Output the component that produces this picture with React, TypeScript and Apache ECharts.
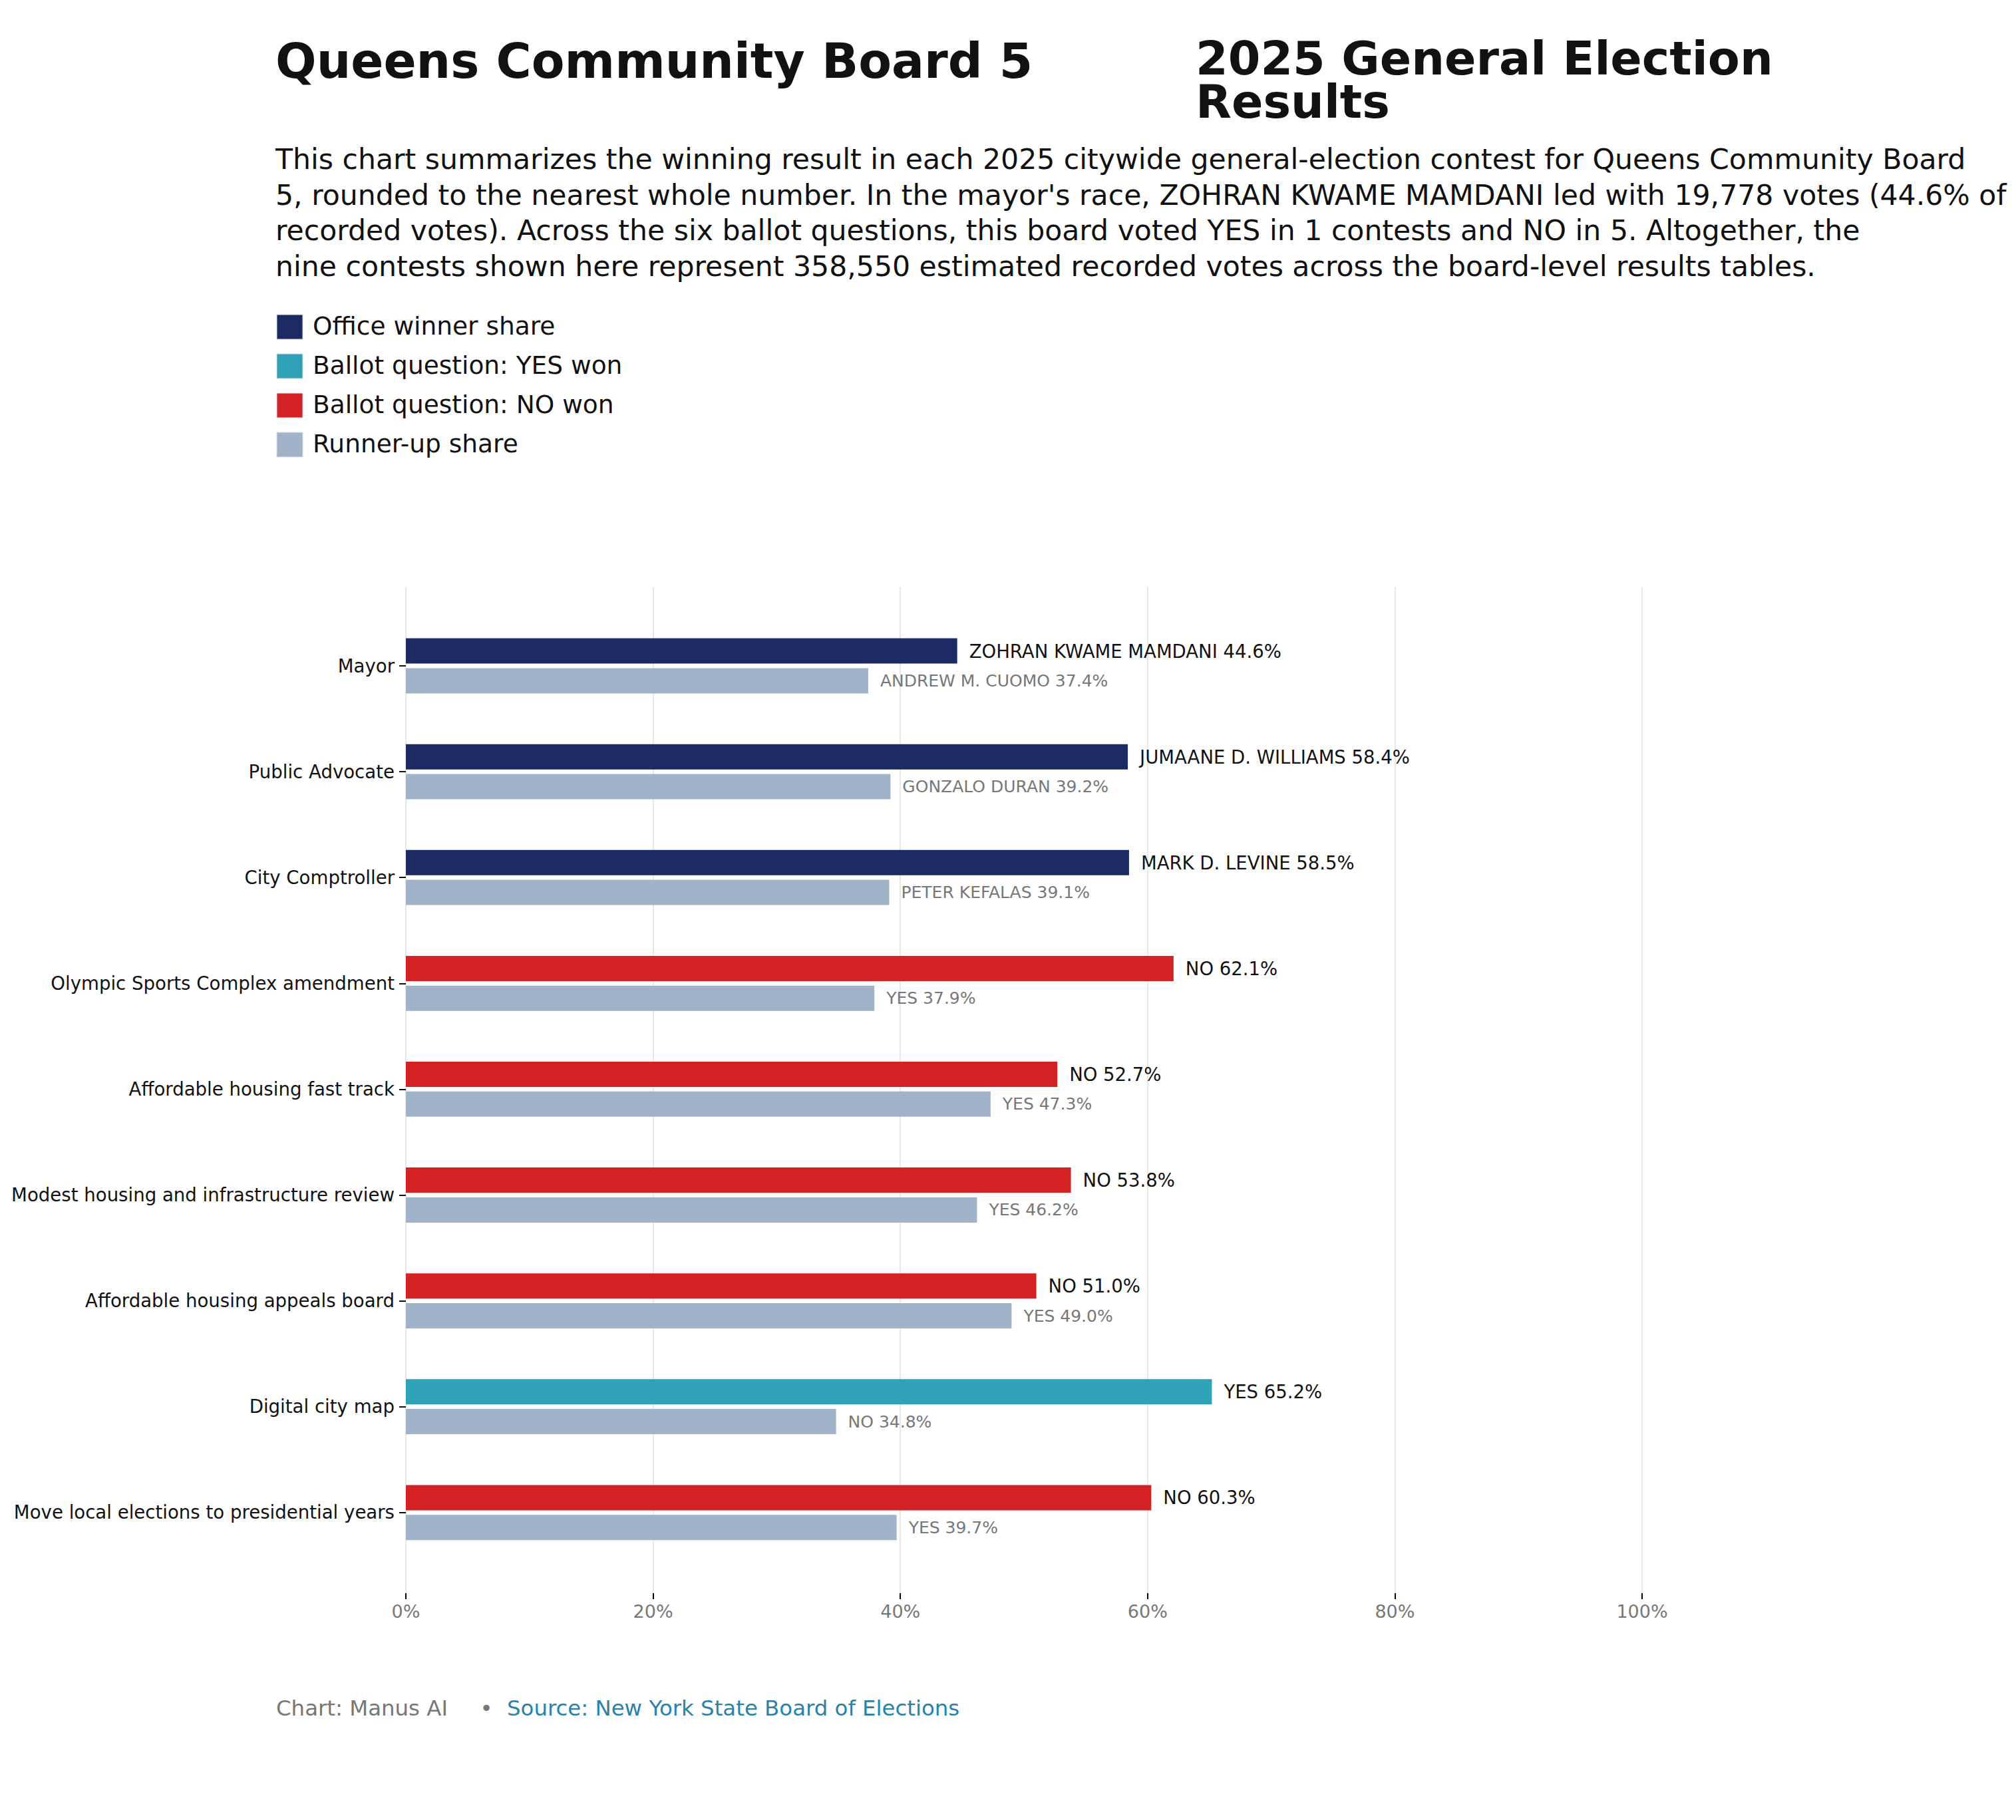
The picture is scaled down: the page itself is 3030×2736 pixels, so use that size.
import { useEffect, useRef } from 'react';
import * as echarts from 'echarts';

const contests = [
  'Mayor',
  'Public Advocate',
  'City Comptroller',
  'Olympic Sports Complex amendment',
  'Affordable housing fast track',
  'Modest housing and infrastructure review',
  'Affordable housing appeals board',
  'Digital city map',
  'Move local elections to presidential years',
];
const winnerNames = ['ZOHRAN KWAME MAMDANI', 'JUMAANE D. WILLIAMS', 'MARK D. LEVINE', 'NO', 'NO', 'NO', 'NO', 'YES', 'NO'];
const winnerShares = [44.6, 58.4, 58.5, 62.1, 52.7, 53.8, 51.0, 65.2, 60.3];
const winnerKinds = ['office', 'office', 'office', 'no', 'no', 'no', 'no', 'yes', 'no'];
const runnerNames = ['ANDREW M. CUOMO', 'GONZALO DURAN', 'PETER KEFALAS', 'YES', 'YES', 'YES', 'YES', 'NO', 'YES'];
const runnerShares = [37.4, 39.2, 39.1, 37.9, 47.3, 46.2, 49.0, 34.8, 39.7];
const xTicks = [0, 20, 40, 60, 80, 100];

const legendLabels = ['Office winner share', 'Ballot question: YES won', 'Ballot question: NO won', 'Runner-up share'];
const paragraphLines = [
  'This chart summarizes the winning result in each 2025 citywide general-election contest for Queens Community Board',
  "5, rounded to the nearest whole number. In the mayor's race, ZOHRAN KWAME MAMDANI led with 19,778 votes (44.6% of",
  'recorded votes). Across the six ballot questions, this board voted YES in 1 contests and NO in 5. Altogether, the',
  'nine contests shown here represent 358,550 estimated recorded votes across the board-level results tables.',
];

const COLORS: Record<string, string> = {
  office: '#1b2a63',
  yes: '#2ea3b7',
  no: '#d42224',
  runner: '#a0b3c8',
};
const legendColors = [COLORS.office, COLORS.yes, COLORS.no, COLORS.runner];

const FONT = 'DejaVu Sans';
const INK = '#111111';
const GREY = '#777777';

// plot geometry (px)
const PLOT_LEFT = 610;
const PLOT_W = 1858;
const AXES_TOP = 882;
const AXES_BOTTOM = 2395;
const BAND = 159.1;
const FIRST_CENTER = 1001;

function txt(text: string, x: number, y: number, size: number, fill: string, weight = 'normal', align = 'left', lh?: number) {
  return {
    type: 'text',
    x,
    y,
    silent: true,
    style: {
      text,
      fontSize: size,
      fontFamily: FONT,
      fontWeight: weight,
      fill,
      align,
      verticalAlign: 'middle',
      ...(lh ? { lineHeight: lh } : {}),
    },
  };
}

export default function App() {
  const ref = useRef<HTMLDivElement>(null);

  useEffect(() => {
    document.body.style.margin = '0';
    if (!ref.current) return;
    const chart = echarts.init(ref.current, null, { renderer: 'svg' });

    const graphics: any[] = [
      txt('Queens Community Board 5', 414, 92, 72.5, INK, 'bold'),
      txt('2025 General Election', 1797, 88, 70, INK, 'bold', 'left', 60),
      txt('Results', 1797, 153, 70, INK, 'bold', 'left', 60),
      ...paragraphLines.map((l, i) => txt(l, 414, 239 + i * 53.6, 42.6, INK)),
      ...legendLabels.flatMap((l, i) => [
        {
          type: 'rect',
          silent: true,
          shape: { x: 416, y: 473 + i * 59, width: 39, height: 37 },
          style: { fill: legendColors[i], stroke: '#dddddd', lineWidth: 1 },
        },
        txt(l, 470, 490 + i * 59, 37.5, INK),
      ]),
      txt('Chart: Manus AI', 415, 2568, 32.4, GREY),
      txt('•', 731, 2568, 32.4, GREY, 'normal', 'center'),
      txt('Source: New York State Board of Elections', 762, 2568, 32.4, '#2a83a6'),
    ];

    const barsTop = FIRST_CENTER - BAND / 2;

    chart.setOption({
      animation: false,
      backgroundColor: '#ffffff',
      textStyle: { fontFamily: FONT },
      graphic: graphics,
      grid: [
        { left: PLOT_LEFT, top: AXES_TOP, width: PLOT_W, height: AXES_BOTTOM - AXES_TOP },
        { left: PLOT_LEFT, top: barsTop, width: PLOT_W, height: BAND * contests.length },
      ],
      xAxis: [
        {
          gridIndex: 0,
          type: 'value',
          min: xTicks[0],
          max: xTicks[xTicks.length - 1],
          interval: 20,
          axisLine: { show: false },
          axisTick: { show: true, length: 9, lineStyle: { color: '#000000', width: 2 } },
          axisLabel: { formatter: '{value}%', color: GREY, fontSize: 27, fontFamily: FONT, margin: 14 },
          splitLine: { show: true, lineStyle: { color: '#e8e8e8', width: 2 } },
        },
        {
          gridIndex: 1,
          type: 'value',
          min: 0,
          max: 100,
          show: false,
          splitLine: { show: false },
        },
      ],
      yAxis: [
        { gridIndex: 0, type: 'value', show: false, splitLine: { show: false } },
        {
          gridIndex: 1,
          type: 'category',
          inverse: true,
          data: contests,
          axisLine: { show: false },
          axisTick: { show: true, alignWithLabel: true, length: 10, lineStyle: { color: INK, width: 2 } },
          axisLabel: { color: INK, fontSize: 27.6, fontFamily: FONT, margin: 17 },
          splitLine: { show: false },
        },
      ],
      series: [
        {
          type: 'bar',
          xAxisIndex: 1,
          yAxisIndex: 1,
          barWidth: 38,
          barGap: '18%',
          data: winnerShares.map((v, i) => ({ value: v, itemStyle: { color: COLORS[winnerKinds[i]] } })),
          label: {
            show: true,
            position: 'right',
            distance: 18,
            color: INK,
            fontSize: 27.5,
            fontFamily: FONT,
            formatter: (p: any) => `${winnerNames[p.dataIndex]} ${winnerShares[p.dataIndex].toFixed(1)}%`,
          },
        },
        {
          type: 'bar',
          xAxisIndex: 1,
          yAxisIndex: 1,
          barWidth: 38,
          barGap: '18%',
          data: runnerShares,
          itemStyle: { color: COLORS.runner },
          label: {
            show: true,
            position: 'right',
            distance: 18,
            color: GREY,
            fontSize: 25,
            fontFamily: FONT,
            formatter: (p: any) => `${runnerNames[p.dataIndex]} ${runnerShares[p.dataIndex].toFixed(1)}%`,
          },
        },
      ],
    });

    return () => {
      chart.dispose();
    };
  }, []);

  return <div ref={ref} style={{ width: 3030, height: 2736 }} />;
}
